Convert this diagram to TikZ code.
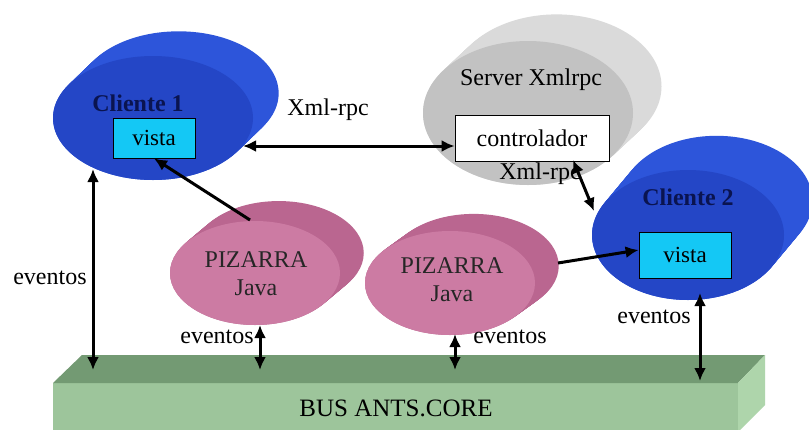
\documentclass[tikz,border=0pt]{standalone}
\usepackage{fontspec}
\setmainfont{Liberation Serif}
\usepackage{tikz}
\usetikzlibrary{arrows.meta, shapes.geometric, positioning, calc}
\definecolor{cliBack}{HTML}{2D55DA}
\definecolor{cliFront}{HTML}{2446C6}
\definecolor{srvBack}{HTML}{DADADA}
\definecolor{srvFront}{HTML}{C2C2C2}
\definecolor{pizBack}{HTML}{BA6690}
\definecolor{pizFront}{HTML}{CC7BA3}
\definecolor{busTop}{HTML}{739A73}
\definecolor{busFront}{HTML}{9DC59B}
\definecolor{busSide}{HTML}{AED5AB}
\definecolor{vistaFill}{HTML}{14C8F5}
\definecolor{cliText}{HTML}{0A1450}
\tikzset{
  disk/.style={draw=none, ellipse, inner sep=0pt},
  vistabox/.style={draw=black, fill=vistaFill, thick, minimum width=82pt, minimum height=40pt,
    font=\fontsize{23}{25}\selectfont, inner sep=0pt},
  ctrlbox/.style={draw=black, fill=white, thick, minimum width=154pt, minimum height=46pt,
    font=\fontsize{24}{26}\selectfont, inner sep=0pt},
  lbl/.style={font=\fontsize{24}{26}\selectfont, inner sep=1pt},
  title/.style={font=\fontsize{24}{26}\selectfont\bfseries, text=cliText, inner sep=0pt},
  link/.style={{Latex[length=13pt,width=12pt]}-{Latex[length=13pt,width=12pt]}, line width=3pt},
  flow/.style={-{Latex[length=13pt,width=12pt]}, line width=3pt}
}
\begin{document}
\begin{tikzpicture}[x=1pt, y=-1pt]
  \useasboundingbox (0,0) rectangle (809,429);
  \fill[white] (0,0) rectangle (809,429);

  % bus
  \fill[busFront] (53,383) rectangle (738,432);
  \fill[busTop] (53,383) -- (82,355) -- (765,355) -- (738,383) -- cycle;
  \fill[busSide] (738,383) -- (765,355) -- (765,405) -- (738,432) -- cycle;
  \node[lbl, font=\fontsize{25}{27}\selectfont] (bus) at (396,408) {BUS ANTS.CORE};

  % server
  \foreach \t in {0,0.05,...,1}
    \fill[srvBack] ($(528,113)+\t*(30,-28)$) ellipse [x radius=105pt, y radius=72pt];
  \node[disk, fill=srvFront, minimum width=210pt, minimum height=144pt] (srv) at (528,113) {};
  \node[lbl] (srvt) at (531,80) {Server Xmlrpc};
  \node[ctrlbox] (ctrl) at (532,138) {controlador};

  % clients
  \foreach \t in {0,0.05,...,1}
    \fill[cliBack] ($(153,118)+\t*(27,-26)$) ellipse [x radius=100pt, y radius=62pt];
  \node[disk, fill=cliFront, minimum width=200pt, minimum height=124pt] (c1) at (153,118) {};
  \node[title] (c1t) at (138,103) {Cliente 1};
  \node[vistabox] (v1) at (154,138) {vista};

  \foreach \t in {0,0.05,...,1}
    \fill[cliBack] ($(688,235)+\t*(30,-36)$) ellipse [x radius=96pt, y radius=65pt];
  \node[disk, fill=cliFront, minimum width=192pt, minimum height=130pt] (c2) at (688,235) {};
  \node[title] (c2t) at (688,197) {Cliente 2};
  \node[vistabox, minimum width=92pt, minimum height=46pt] (v2) at (685,255) {vista};

  % pizarras
  \foreach \t in {0,0.05,...,1}
    \fill[pizBack] ($(255,273)+\t*(25,-21)$) ellipse [x radius=85pt, y radius=52pt];
  \node[disk, fill=pizFront, minimum width=170pt, minimum height=104pt] (p1) at (255,273) {};
  \node[lbl, align=center, text=black!85] (p1t) at (256,274) {PIZARRA\\[2pt]Java};

  \foreach \t in {0,0.05,...,1}
    \fill[pizBack] ($(450,283)+\t*(25,-18)$) ellipse [x radius=85pt, y radius=52pt];
  \node[disk, fill=pizFront, minimum width=170pt, minimum height=104pt] (p2) at (450,283) {};
  \node[lbl, align=center, text=black!85] (p2t) at (452,280) {PIZARRA\\[2pt]Java};

  % connectors
  \coordinate (c1r) at (243,146);
  \coordinate (ctrlb) at (573,160);
  \coordinate (c2t0) at (594,211);
  \coordinate (p1top) at (250,220);
  \coordinate (p2r) at (558,263);
  \coordinate (c1low) at (93,169);
  \coordinate (p1low) at (260,325);
  \coordinate (p2low) at (455,334);
  \coordinate (c2low) at (700,293);
  \draw[link] (c1r) -- (c1r -| ctrl.west);
  \draw[link] (ctrlb) -- (c2t0);
  \draw[flow] (p1top) -- (v1.south);
  \draw[flow] (p2r) -- ($(v2.west)+(0,-5)$);
  \draw[link] (c1low) -- (c1low |- 0,370);
  \draw[link] (p1low) -- (p1low |- 0,370);
  \draw[link] (p2low) -- (p2low |- 0,370);
  \draw[link] (c2low) -- (c2low |- 0,381);

  % labels
  \node[lbl] (x1) at (328,110) {Xml-rpc};
  \node[lbl] (x2) at (540,174) {Xml-rpc};
  \node[lbl] (e1) at (50,278) {eventos};
  \node[lbl] (e2) at (217,337) {eventos};
  \node[lbl] (e3) at (510,337) {eventos};
  \node[lbl] (e4) at (654,317) {eventos};
\end{tikzpicture}
\end{document}
